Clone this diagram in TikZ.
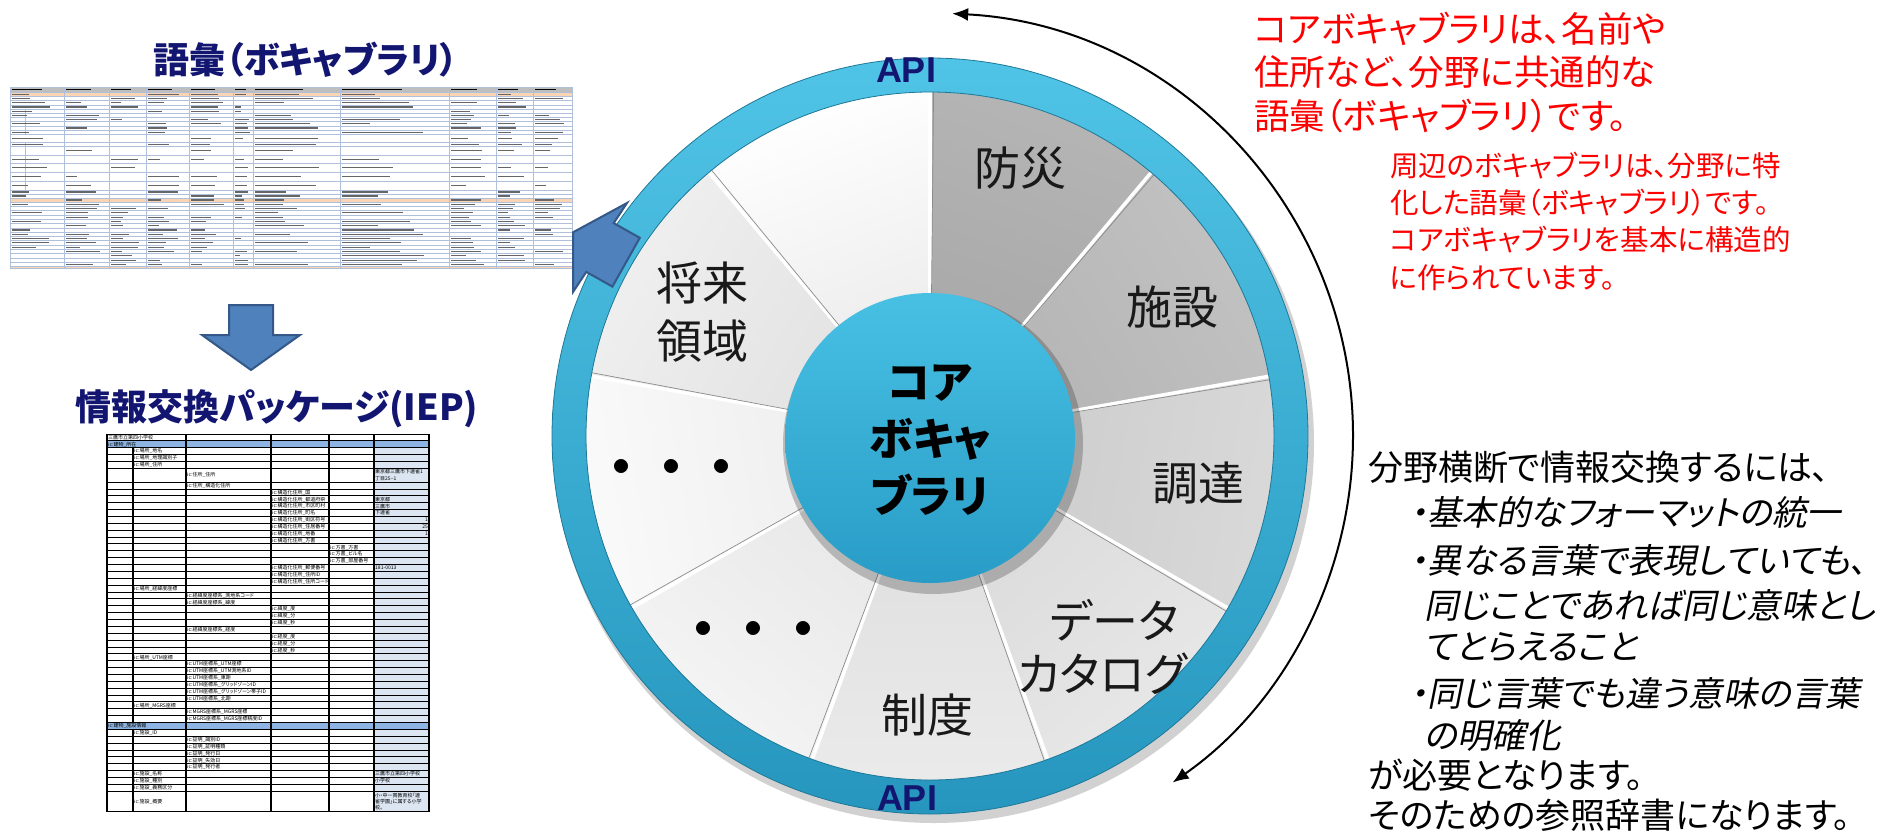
\documentclass[tikz,border=0pt]{standalone}
\usepackage{fontspec}
\setmainfont{Noto Sans CJK JP}[RawFeature=+palt]
\newfontfamily\jpit{Noto Sans CJK JP}[FakeSlant=0.2,RawFeature=+palt]
\newfontfamily\jpmono{Noto Sans CJK JP}
\newfontfamily\apifont{Liberation Sans}
\usetikzlibrary{arrows.meta,calc}
\definecolor{navy}{RGB}{18,22,112}
\definecolor{ringA}{RGB}{80,196,230}
\definecolor{ringB}{RGB}{38,150,190}
\definecolor{coreA}{RGB}{72,192,228}
\definecolor{coreB}{RGB}{40,156,198}
\definecolor{arrowfill}{RGB}{79,129,189}
\definecolor{arrowline}{RGB}{52,88,135}
\definecolor{gridblue}{RGB}{176,192,218}
\definecolor{orangerow}{RGB}{251,212,180}
\definecolor{hdrgray}{RGB}{190,190,190}
\definecolor{cellblue}{RGB}{220,230,242}
\definecolor{rowblue}{RGB}{141,180,226}
\definecolor{redtxt}{RGB}{255,0,0}
\newcommand{\wheelseg}[4]{%
  \pgfmathsetmacro{\shang}{-(#1+#2)/2-90}%
  \shade[top color=#3, bottom color=#4, shading angle=\shang]
    (0,0) -- (#1:344) arc[start angle=#1, end angle=#2, radius=344] -- cycle;}
\tikzset{
  titletext/.style={font=\bfseries\fontsize{36}{40}\selectfont, text=navy, inner sep=0},
  seglabel/.style={font=\fontsize{46}{58}\selectfont, text=black!90, inner sep=0, align=center},
  dotlabel/.style={font=\jpmono\bfseries\fontsize{50}{58}\selectfont, text=black, inner sep=0},
  corelabel/.style={font=\bfseries\fontsize{44}{57}\selectfont, text=black, inner sep=0, align=center},
  apitext/.style={font=\apifont\bfseries\fontsize{36}{40}\selectfont, text=navy, inner sep=0},
  redone/.style={font=\fontsize{35.5}{43.5}\selectfont, text=redtxt, inner sep=0, align=left, anchor=west},
  redtwo/.style={font=\fontsize{28.5}{37.3}\selectfont, text=redtxt, inner sep=0, align=left, anchor=west},
  blk/.style={font=\fontsize{35}{40}\selectfont, text=black, inner sep=0, anchor=west},
  blkit/.style={font=\jpit\fontsize{34.5}{40}\selectfont, text=black, inner sep=0, anchor=west},
  blockarrow/.style={fill=arrowfill, draw=arrowline, line width=2, line join=miter},
  bigarc/.style={line width=2, {Latex[length=16pt,width=13pt]}-{Latex[length=16pt,width=13pt]}},
  gridone/.style={draw=gridblue, line width=0.6},
  txtbar/.style={draw=black!60, line width=1.1},
  t2line/.style={draw=black, line width=1.1},
  tcell/.style={font=\fontsize{5}{6.3}\selectfont, inner sep=0, anchor=west, align=left},
}
\begin{document}
\begin{tikzpicture}[x=1pt,y=-1pt]
\useasboundingbox (0,0) rectangle (1888,836);

% ---------------- left titles ----------------
\node[titletext] (t1) at (306,60) {語彙（ボキャブラリ）};
\node[titletext] (t2) at (277,409) {情報交換パッケージ(IEP)};

% ---------------- table 1 (vocabulary) ----------------
\fill[hdrgray] (10,87) rectangle (572,92);
\fill[orangerow] (10,92) rectangle (572,96.5);
\fill[orangerow] (10,198) rectangle (572,202);
\fill[orangerow] (10,266.5) rectangle (572,268);
\foreach \y in {87,92,96.5,100.7,104.9,109.1,113.3,117.5,121.7,125.9,130.1,134.3,142.5,146.5,155,163.5,172,181,190,194,198,202,206.3,210.6,214.9,219.2,223.5,227.8,232.1,236.4,240.7,245,249.3,253.6,257.9,262.2,266.5,268}
  \draw[gridone] (10,\y) -- (572,\y);
\foreach \x in {10,64,109,146,189,233,253,340,449,496,533,572}
  \draw[gridone] (\x,87) -- (\x,268);
\draw[gridone] (25,109.1) -- (25,134.3);
\draw[gridone] (25,142.5) -- (25,190);
\foreach \xa/\xb in {10/64,64/109,109/146,146/189,189/233,233/253,253/340,340/449,449/496,496/533,533/572}
  \draw[draw=black, line width=1.6] (\xa+2,89.5) -- ({\xa+2+0.55*(\xb-\xa)},89.5);
\pgfmathsetseed{7}
\foreach \ya/\yb in {92/96.5,96.5/100.7,100.7/104.9,104.9/109.1,109.1/113.3,113.3/117.5,117.5/121.7,121.7/125.9,125.9/130.1,130.1/134.3,134.3/142.5,142.5/146.5,146.5/155,155/163.5,163.5/172,172/181,181/190,190/194,194/198,198/202,202/206.3,206.3/210.6,210.6/214.9,214.9/219.2,219.2/223.5,223.5/227.8,227.8/232.1,232.1/236.4,236.4/240.7,240.7/245,245/249.3,249.3/253.6,253.6/257.9,257.9/262.2,262.2/266.5} {
  \foreach \xa/\xb in {10/64,64/109,109/146,146/189,189/233,233/253,253/340,340/449,449/496,496/533,533/572} {
    \pgfmathtruncatemacro{\showbar}{rnd>0.3 ? 1 : 0}
    \pgfmathsetmacro{\blen}{(0.25+0.5*rnd)*(\xb-\xa)}
    \ifnum\showbar=1
      \draw[txtbar] (\xa+2,{(\ya+\yb)/2}) -- ++(\blen,0);
    \fi
  }
}

% ---------------- down arrow ----------------
\draw[blockarrow] (229,305) -- (273,305) -- (273,335) -- (300,335) -- (251,370) -- (202,335) -- (229,335) -- cycle;

% ---------------- table 2 (IEP) ----------------
\fill[cellblue] (374,440.87) rectangle (429,811.85);
\fill[rowblue] (107,440.87) rectangle (429,447.74);
\fill[rowblue] (107,722.54) rectangle (429,729.41);
\foreach \u in {0,...,5,7,8,...,52,55}
  \draw[t2line, line width=0.9] (107,{434+\u*6.87}) -- (429,{434+\u*6.87});
\foreach \x in {107,186,271,329,374,429}
  \draw[t2line] (\x,434) -- (\x,811.85);
\draw[t2line] (133,447.74) -- (133,722.54);
\draw[t2line] (133,729.41) -- (133,811.85);
\foreach \x/\u/\t in {
  108/0/三鷹市立第四小学校, 108/1/ic:建物\_所在,
  134/2/ic:場所\_地名, 134/3/ic:場所\_地理識別子, 134/4/ic:場所\_住所,
  187/7/ic:住所\_構造化住所,
  272/8/ic:構造化住所\_国, 272/9/ic:構造化住所\_都道府県, 272/10/ic:構造化住所\_市区町村,
  272/11/ic:構造化住所\_町名, 272/12/ic:構造化住所\_街区符号, 272/13/ic:構造化住所\_住居番号,
  272/14/ic:構造化住所\_地番, 272/15/ic:構造化住所\_方書,
  330/16/ic:方書\_方書, 330/17/ic:方書\_ビル名, 330/18/ic:方書\_部屋番号,
  272/19/ic:構造化住所\_郵便番号, 272/20/ic:構造化住所\_住所ID, 272/21/ic:構造化住所\_住所コード,
  134/22/ic:場所\_経緯度座標,
  187/23/ic:経緯度座標系\_測地系コード, 187/24/ic:経緯度座標系\_緯度,
  272/25/ic:緯度\_度, 272/26/ic:緯度\_分, 272/27/ic:緯度\_秒,
  187/28/ic:経緯度座標系\_経度,
  272/29/ic:経度\_度, 272/30/ic:経度\_分, 272/31/ic:経度\_秒,
  134/32/ic:場所\_UTM座標,
  187/33/ic:UTM座標系\_UTM座標, 187/34/ic:UTM座標系\_UTM測地系ID, 187/35/ic:UTM座標系\_東距,
  187/36/ic:UTM座標系\_グリッドゾーンID, 187/37/ic:UTM座標系\_グリッドゾーン帯子ID, 187/38/ic:UTM座標系\_北距,
  134/39/ic:場所\_MGRS座標,
  187/40/ic:MGRS座標系\_MGRS座標, 187/41/ic:MGRS座標系\_MGRS座標精度ID,
  108/42/ic:建物\_施設情報,
  134/43/ic:施設\_ID,
  187/44/ic:証明\_識別ID, 187/45/ic:証明\_証明種類, 187/46/ic:証明\_発行日, 187/47/ic:証明\_失効日, 187/48/ic:証明\_発行者,
  134/49/ic:施設\_名称, 134/50/ic:施設\_種別, 134/51/ic:施設\_義務区分,
  375/9/東京都, 375/10/三鷹市, 375/11/下連雀, 375/19/181-0013,
  375/49/三鷹市立第四小学校, 375/50/小学校}
  \node[tcell] (t2-\u-\x) at (\x,{434+(\u+0.5)*6.87}) {\t};
\foreach \u/\t in {12/1,13/25,14/1}
  \node[tcell, anchor=east] (t2n-\u) at (428,{434+(\u+0.5)*6.87}) {\t};
\node[tcell] (t2-addr) at (187,475.2) {ic:住所\_住所};
\node[tcell] (t2-addrv) at (375,475.2) {東京都三鷹市下連雀1\\丁目25−1};
\node[tcell] (t2-sum) at (134,801.5) {ic:施設\_概要};
\node[tcell] (t2-sumv) at (375,801.5) {小・中一貫教育校「連\\雀学園」に属する小学\\校。};

% ---------------- wheel ----------------
\begin{scope}[shift={(930,436)}]
  \fill[black, opacity=0.18, even odd rule] (4,7) circle (380) (4,7) circle (342);
  \wheelseg{-130}{-90}{white}{black!9}
  \wheelseg{-90}{-50}{black!29}{black!35}
  \wheelseg{-50}{-10}{black!24}{black!30}
  \wheelseg{-10}{30}{black!15}{black!21}
  \wheelseg{30}{70}{black!9}{black!15}
  \wheelseg{70}{110}{black!8}{black!14}
  \wheelseg{110}{150}{black!4}{black!10}
  \wheelseg{150}{190}{black!2}{black!8}
  \wheelseg{190}{230}{black!6}{black!12}
  \foreach \a in {-130,-90,-50,-10,30,70,110,150,190} {
    \draw[white, line width=3.5] (\a:140) -- (\a:344);
    \draw[black!45, line width=0.7] (\a+0.6:140) -- (\a+0.6:344);
  }
  \fill[black, opacity=0.22] (3,8) circle (150);
  \shade[top color=coreA, bottom color=coreB] (0,2) circle (145);
  \shade[top color=ringA, bottom color=ringB, even odd rule] (0,0) circle (378) (0,0) circle (344);
  \draw[ringB!80!black, line width=0.8] (0,0) circle (378);
  \draw[ringB!80!black, line width=0.8] (0,0) circle (344);
\end{scope}

\node[apitext] (apitop) at (906,70) {API};
\node[apitext] (apibot) at (907,798) {API};

\node[seglabel] (bousai) at (1020,168) {防災};
\node[seglabel] (shisetsu) at (1172,307) {施設};
\node[seglabel] (choutatsu) at (1198,483) {調達};
\node[seglabel] (data1) at (1114,620) {データ};
\node[seglabel] (data2) at (1102,674) {カタログ};
\node[seglabel] (seido) at (927,715) {制度};
\node[dotlabel] (dots1) at (753,634) {・・・};
\node[dotlabel] (dots2) at (671,472) {・・・};
\node[seglabel] (shourai) at (702,312) {将来\\領域};
\node[corelabel] (core) at (930,440) {コア\\ボキャ\\ブラリ};

% ---------------- arrow to table 1 ----------------
\draw[blockarrow] (573,232.3) -- (627,203) -- (613.7,223.1) -- (639.8,237.8) -- (612.4,286.6) -- (586.3,271.9) -- (573,292) -- cycle;

% ---------------- big arc ----------------
\coordinate (arcS) at ($(930,436)+(-87:423)$);
\draw[bigarc] (arcS) arc[start angle=-87, end angle=55, radius=423];

% ---------------- right texts ----------------
\node[redone] (red1) at (1254,72) {コアボキャブラリは、名前や\\住所など、分野に共通的な\\語彙（ボキャブラリ）です。};
\node[redtwo] (red2) at (1390,221) {周辺のボキャブラリは、分野に特\\化した語彙（ボキャブラリ）です。\\コアボキャブラリを基本に構造的\\に作られています。};

\node[blk] (b1) at (1368,467) {分野横断で情報交換するには、};
\node[blkit] (b2) at (1410,512) {・基本的なフォーマットの統一};
\node[blkit] (b3) at (1410,560) {・異なる言葉で表現していても、};
\node[blkit] (b4) at (1424,605) {同じことであれば同じ意味とし};
\node[blkit] (b5) at (1424,647) {てとらえること};
\node[blkit] (b6) at (1410,693) {・同じ言葉でも違う意味の言葉};
\node[blkit] (b7) at (1424,735) {の明確化};
\node[blk] (b8) at (1368,775) {が必要となります。};
\node[blk] (b9) at (1368,815) {そのための参照辞書になります。};
\end{tikzpicture}
\end{document}
